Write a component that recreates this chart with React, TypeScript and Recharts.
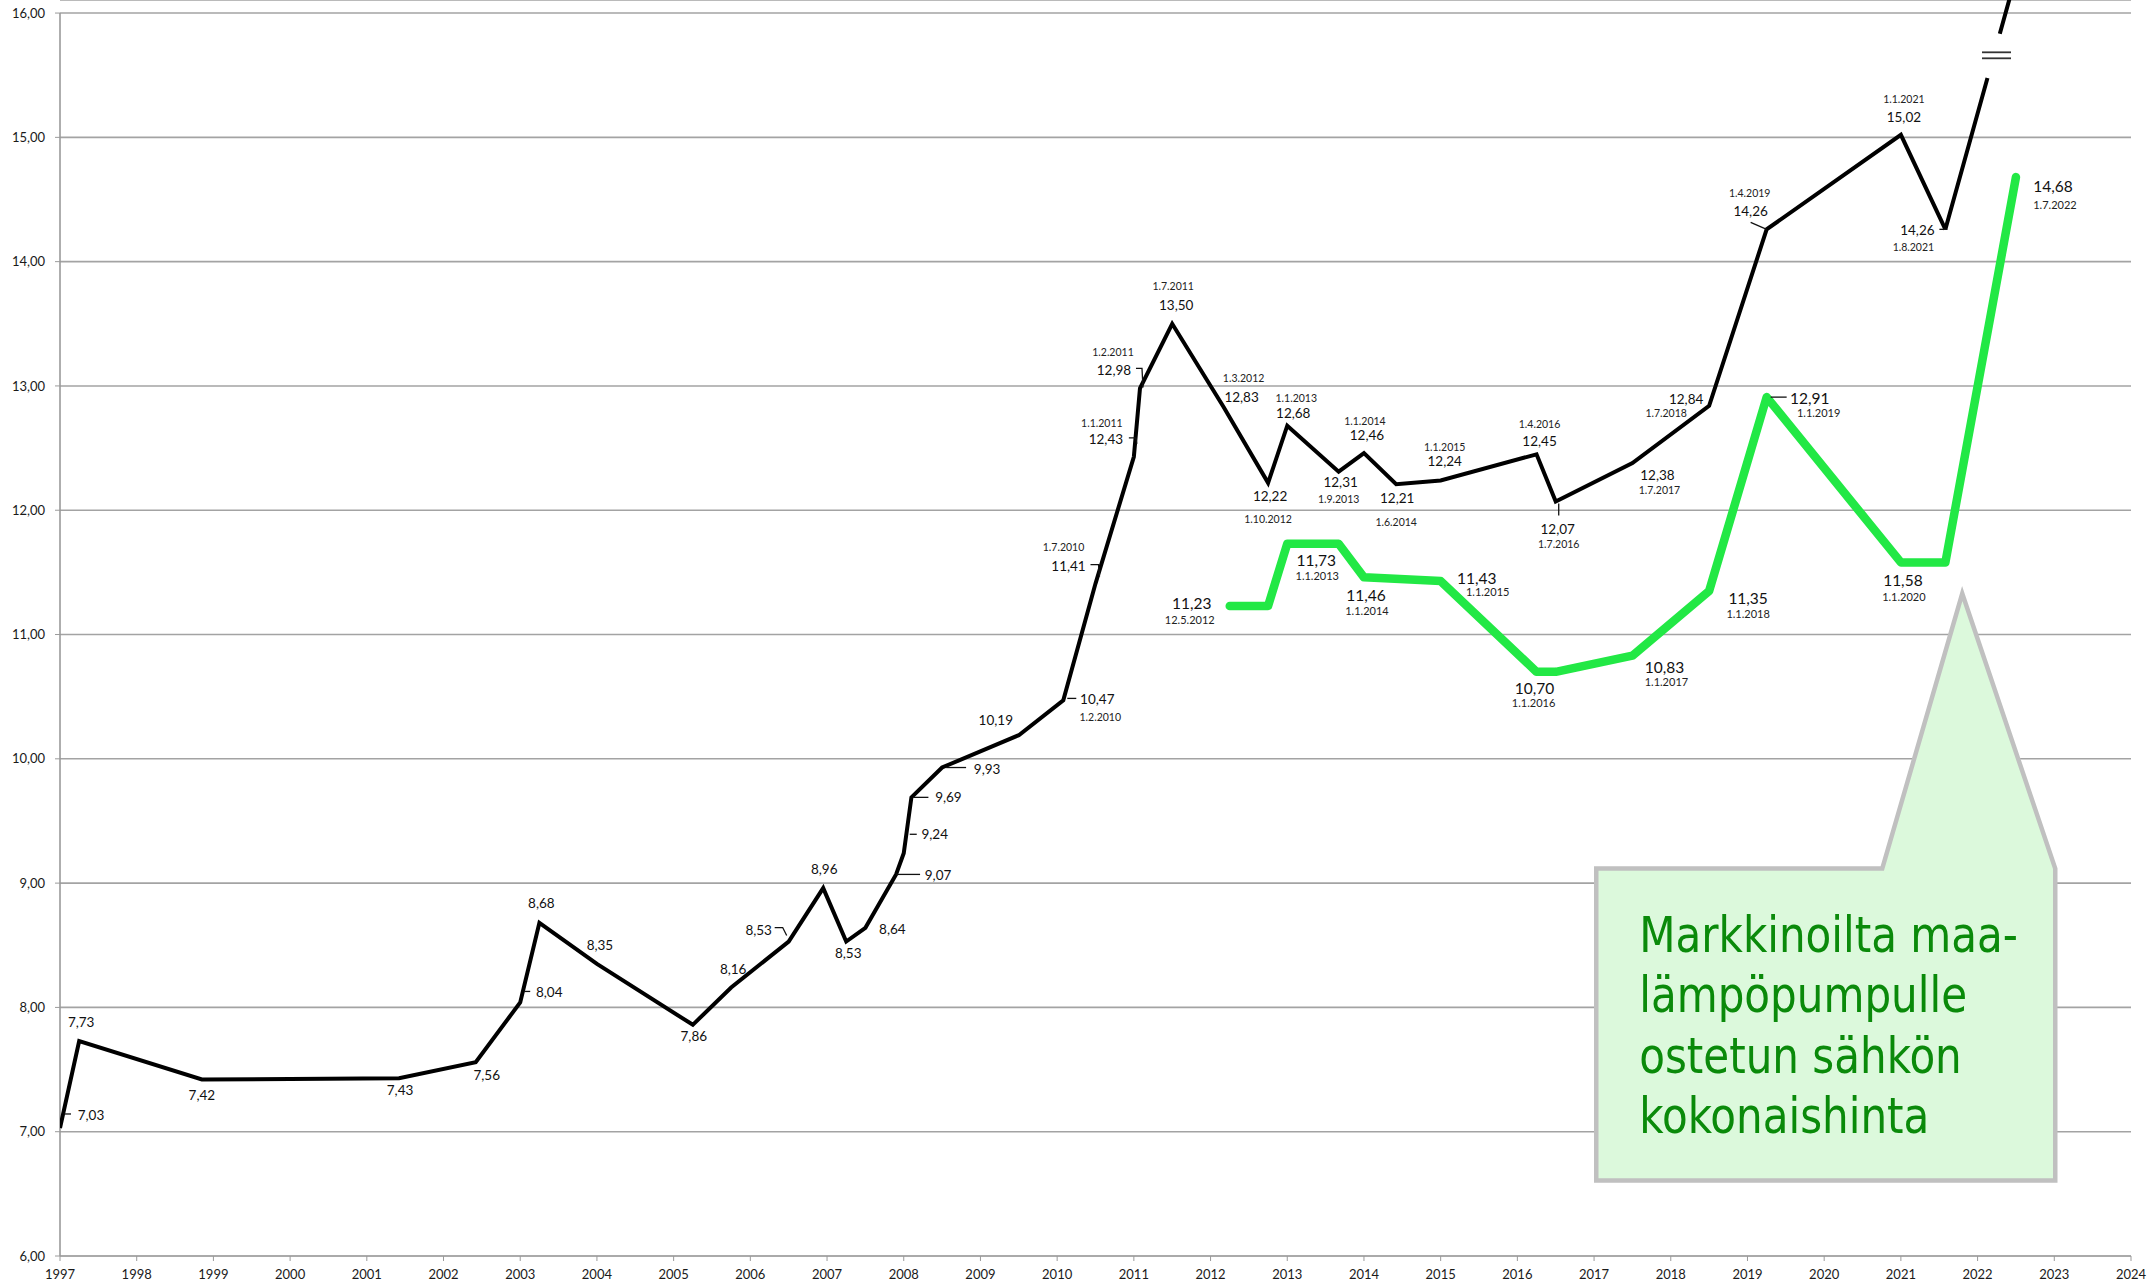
import React from 'react';
import { LineChart, Line, XAxis, YAxis, CartesianGrid, ReferenceLine, ReferenceDot } from 'recharts';

// ---------- data ----------
const yearTicks = [1997, 1998, 1999, 2000, 2001, 2002, 2003, 2004, 2005, 2006, 2007, 2008, 2009, 2010, 2011, 2012, 2013, 2014, 2015, 2016, 2017, 2018, 2019, 2020, 2021, 2022, 2023, 2024];
const valueTicks = [6, 7, 8, 9, 10, 11, 12, 13, 14, 15, 16];

// black series: total price (decimal year / c/kWh / date label)
const blackYears = [1997.0, 1997.25, 1998.85, 2001.42, 2002.42, 2003.0, 2003.25, 2004.0, 2005.25, 2005.75, 2006.5, 2006.95, 2007.25, 2007.5, 2007.9, 2008.0, 2008.1, 2008.5, 2009.5, 2010.08, 2010.5, 2011.0, 2011.08, 2011.5, 2012.17, 2012.75, 2013.0, 2013.67, 2014.0, 2014.42, 2015.0, 2016.25, 2016.5, 2017.5, 2018.5, 2019.25, 2021.0, 2021.58];
const blackValues = [7.03, 7.73, 7.42, 7.43, 7.56, 8.04, 8.68, 8.35, 7.86, 8.16, 8.53, 8.96, 8.53, 8.64, 9.07, 9.24, 9.69, 9.93, 10.19, 10.47, 11.41, 12.43, 12.98, 13.5, 12.83, 12.22, 12.68, 12.31, 12.46, 12.21, 12.24, 12.45, 12.07, 12.38, 12.84, 14.26, 15.02, 14.26];
const blackDates = ['', '', '', '', '', '', '', '', '', '', '', '', '', '', '', '', '', '', '', '1.2.2010', '1.7.2010', '1.1.2011', '1.2.2011', '1.7.2011', '1.3.2012', '1.10.2012', '1.1.2013', '1.9.2013', '1.1.2014', '1.6.2014', '1.1.2015', '1.4.2016', '1.7.2016', '1.7.2017', '1.7.2018', '1.4.2019', '1.1.2021', '1.8.2021'];
// black series continuation beyond the axis break
const blackTailYears = [2021.58, 2022.5];
const blackTailValues = [14.26, 16.3];

// green series
const greenYears = [2012.25, 2012.75, 2013.0, 2013.67, 2014.0, 2015.0, 2016.25, 2016.5, 2017.5, 2018.5, 2019.25, 2021.0, 2021.58, 2022.5];
const greenValues = [11.23, 11.23, 11.73, 11.73, 11.46, 11.43, 10.7, 10.7, 10.83, 11.35, 12.91, 11.58, 11.58, 14.68];
const greenDates = ['12.5.2012', '', '1.1.2013', '', '1.1.2014', '1.1.2015', '1.1.2016', '', '1.1.2017', '1.1.2018', '1.1.2019', '1.1.2020', '', '1.7.2022'];
const greenShowLabel = [true, false, true, false, true, true, true, false, true, true, true, true, false, true];

const calloutLines = ['Markkinoilta maa-', 'lämpöpumpulle', 'ostetun sähkön', 'kokonaishinta'];
const calloutTipYear = 2021.8;
const calloutTipValue = 11.33;
const breakYear = 2022.24;
const breakValue = 15.66;

// ---------- label layout (pixel offsets relative to each point) ----------
type Pt = [number, number];
type Lay = { v: Pt; d?: Pt; l?: Pt[] };
const blackLayout: Lay[] = [
  { v: [31, -13], l: [[4, -14], [11, -14]] },
  { v: [2, -19] },
  { v: [0, 15] },
  { v: [1, 12] },
  { v: [11, 13] },
  { v: [29, -10], l: [[4, -11], [10, -11]] },
  { v: [2, -20] },
  { v: [3, -19] },
  { v: [1, 11] },
  { v: [2, -19] },
  { v: [-30, -12], l: [[-14, -14], [-6, -14], [-2, -6]] },
  { v: [1, -19] },
  { v: [2, 11] },
  { v: [27, 1] },
  { v: [42, 1], l: [[0, 0], [24, 0]] },
  { v: [31, -19], l: [[6, -19], [13, -19]] },
  { v: [37, 0], l: [[2, 0], [17, 0]] },
  { v: [45, 1], l: [[4, 0], [24, 0]] },
  { v: [-23, -15] },
  { v: [34, -1], d: [37, 17], l: [[4, -2], [13, -2]] },
  { v: [-27, -18], d: [-32, -37], l: [[-5, -19], [3, -19], [4, -7]] },
  { v: [-28, -18], d: [-32, -34], l: [[-5, -19], [2, -19], [3, -13]] },
  { v: [-26, -18], d: [-27, -36], l: [[-4, -20], [2, -20], [3, -1]] },
  { v: [4, -19], d: [1, -38] },
  { v: [18, -10], d: [20, -29] },
  { v: [2, 13], d: [0, 36] },
  { v: [6, -13], d: [9, -28] },
  { v: [2, 10], d: [0, 27] },
  { v: [3, -18], d: [1, -32] },
  { v: [1, 14], d: [0, 38] },
  { v: [4, -19], d: [4, -33] },
  { v: [3, -13], d: [3, -30] },
  { v: [2, 27], d: [3, 42], l: [[3, 2], [3, 14]] },
  { v: [25, 12], d: [27, 27] },
  { v: [-23, -7], d: [-43, 7] },
  { v: [-16, -18], d: [-17, -36], l: [[-16, -7], [0, 0]] },
  { v: [3, -18], d: [3, -36] },
  { v: [-28, 1], d: [-32, 18], l: [[-6, 0], [2, 0]] },
];
const greenLayout: Lay[] = [
  { v: [-38, -3], d: [-40, 14] },
  { v: [0, 0] },
  { v: [29, 16], d: [30, 32] },
  { v: [0, 0] },
  { v: [2, 18], d: [3, 33] },
  { v: [36, -3], d: [47, 10] },
  { v: [-2, 16], d: [-3, 31] },
  { v: [0, 0] },
  { v: [32, 11], d: [34, 26] },
  { v: [39, 7], d: [39, 22] },
  { v: [43, 1], d: [52, 15], l: [[4, 0], [20, 0]] },
  { v: [2, 18], d: [3, 34] },
  { v: [0, 0] },
  { v: [37, 9], d: [39, 27] },
];

const blackData = blackYears.map((x, i) => ({ x, y: blackValues[i] }));
const blackTail = blackTailYears.map((x, i) => ({ x, y: blackTailValues[i] }));
const greenData = greenYears.map((x, i) => ({ x, y: greenValues[i] }));

const FONT = "Lato, 'Open Sans', sans-serif";
const fmt = (v: number) => v.toFixed(2).replace('.', ',');

const renderLabel = (
  layout: Lay[],
  values: number[],
  dates: string[],
  show: boolean[] | null,
  valueSize: number,
  dateSize: number,
  prefix: string
) => (p: any) => {
  const { cx, cy, index } = p;
  const key = `${prefix}-${index}`;
  if (cx == null || cy == null || (show && !show[index])) return <g key={key} />;
  const lay = layout[index];
  return (
    <g key={key}>
      {lay.l && (
        <polyline
          points={lay.l.map(([dx, dy]) => `${cx + dx},${cy + dy}`).join(' ')}
          fill="none"
          stroke="#111"
          strokeWidth={1.3}
        />
      )}
      <text
        x={cx + lay.v[0]}
        y={cy + lay.v[1]}
        textAnchor="middle"
        dominantBaseline="central"
        fontFamily={FONT}
        fontSize={valueSize}
        fill="#111"
      >
        {fmt(values[index])}
      </text>
      {lay.d && dates[index] && (
        <text
          x={cx + lay.d[0]}
          y={cy + lay.d[1]}
          textAnchor="middle"
          dominantBaseline="central"
          fontFamily={FONT}
          fontSize={dateSize}
          fill="#222"
        >
          {dates[index]}
        </text>
      )}
    </g>
  );
};

const CalloutShape = (p: any) => {
  const { cx, cy } = p;
  if (cx == null || cy == null) return <g />;
  const pts: Pt[] = [[-366, 275], [-80, 275], [0, 0], [93, 275], [93, 587], [-366, 587]];
  const tx = cx - 323;
  return (
    <g>
      <polygon
        points={pts.map(([dx, dy]) => `${cx + dx},${cy + dy}`).join(' ')}
        fill="#dcf9dc"
        stroke="#c0c0c0"
        strokeWidth={4.5}
        strokeLinejoin="miter"
      />
      <g transform={`translate(${tx},0) scale(0.935,1) translate(${-tx},0)`}>
        {calloutLines.map((t, i) => (
          <text
            key={i}
            x={tx}
            y={cy + 359 + i * 60}
            fontFamily="'Liberation Sans Narrow', 'DejaVu Sans Condensed', 'Liberation Sans', sans-serif"
            fontSize={50}
            fill="#0a8a0a"
          >
            {t}
          </text>
        ))}
      </g>
    </g>
  );
};

const BreakShape = (p: any) => {
  const { cx, cy } = p;
  if (cx == null || cy == null) return <g />;
  return (
    <g>
      <line x1={cx - 14} x2={cx + 15} y1={cy - 3} y2={cy - 3} stroke="#333" strokeWidth={1.8} />
      <line x1={cx - 14} x2={cx + 15} y1={cy + 3} y2={cy + 3} stroke="#333" strokeWidth={1.8} />
    </g>
  );
};

export default function App() {
  return (
    <div style={{ position: 'absolute', left: 0, top: 0, width: 2156, height: 1288, background: '#fff' }}>
      <LineChart width={2156} height={1288} margin={{ top: 0, right: 25, bottom: 0, left: 0 }}>
        <CartesianGrid vertical={false} stroke="#a3a3a3" strokeWidth={1.6} />
        <XAxis
          type="number"
          dataKey="x"
          domain={[1997, 2024]}
          ticks={yearTicks}
          interval={0}
          allowDataOverflow
          height={32}
          tickSize={5}
          tickMargin={9}
          stroke="#9a9a9a"
          tick={{ fill: '#1a1a1a', fontSize: 13, fontFamily: FONT }}
        />
        <YAxis
          type="number"
          domain={[6, 16.105]}
          ticks={valueTicks}
          interval={0}
          allowDataOverflow
          width={60}
          tickSize={5}
          tickMargin={10}
          axisLine={false}
          tickLine={{ stroke: '#9a9a9a' }}
          tickFormatter={fmt}
          tick={{ fill: '#1a1a1a', fontSize: 13, fontFamily: FONT }}
        />
        <ReferenceLine segment={[{ x: 1997, y: 6 }, { x: 1997, y: 16 }]} stroke="#9a9a9a" strokeWidth={1.6} />
        <ReferenceDot x={calloutTipYear} y={calloutTipValue} r={0} shape={CalloutShape} />
        <Line
          data={greenData}
          dataKey="y"
          type="linear"
          stroke="#22e845"
          strokeWidth={8.5}
          strokeLinecap="round"
          strokeLinejoin="round"
          isAnimationActive={false}
          dot={renderLabel(greenLayout, greenValues, greenDates, greenShowLabel, 15.5, 11, 'g')}
          activeDot={false}
        />
        <Line
          data={blackData}
          dataKey="y"
          type="linear"
          stroke="#000"
          strokeWidth={4}
          strokeLinejoin="miter"
          isAnimationActive={false}
          dot={renderLabel(blackLayout, blackValues, blackDates, null, 13.5, 10.5, 'b')}
          activeDot={false}
        />
        <Line
          data={blackTail}
          dataKey="y"
          type="linear"
          stroke="#000"
          strokeWidth={4}
          strokeDasharray="157 46 400"
          isAnimationActive={false}
          dot={false}
          activeDot={false}
        />
        <ReferenceDot x={breakYear} y={breakValue} r={0} shape={BreakShape} />
      </LineChart>
    </div>
  );
}
